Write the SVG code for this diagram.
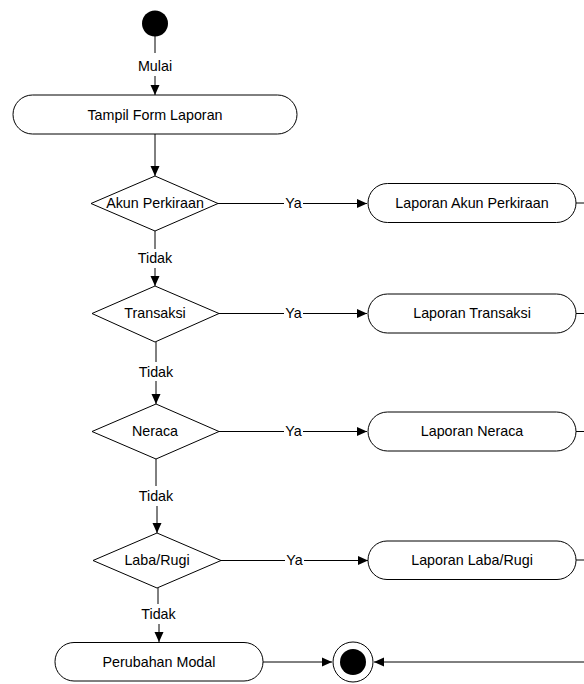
<svg xmlns="http://www.w3.org/2000/svg" width="584" height="684" viewBox="0 0 584 684">
<style>
.n{fill:#fff;stroke:#000;stroke-width:1}
.t{font-family:"Liberation Sans",Arial,sans-serif;font-size:14.3px;fill:#000;text-anchor:middle}
.c{fill:none;stroke:#000;stroke-width:1}
</style>
<defs>
<marker id="ah" markerUnits="userSpaceOnUse" markerWidth="12" markerHeight="10" refX="10" refY="5" orient="auto">
<path d="M0,0.5 L10,5 L0,9.5 Z" fill="#000"/>
</marker>
</defs>
<rect width="584" height="684" fill="#fff"/>
<g id="connectors">
<path class="c" d="M155,36 V53"/>
<path class="c" d="M155,76 V95" marker-end="url(#ah)"/>
<path class="c" d="M155,134 V176" marker-end="url(#ah)"/>
<path class="c" d="M218,203.5 H284 M303,203.5 H367" marker-end="url(#ah)"/>
<path class="c" d="M155,231 V249"/>
<path class="c" d="M155,268 V286" marker-end="url(#ah)"/>
<path class="c" d="M219,313.5 H284 M303,313.5 H367" marker-end="url(#ah)"/>
<path class="c" d="M156,342 V362"/>
<path class="c" d="M156,381 V404" marker-end="url(#ah)"/>
<path class="c" d="M219,431.5 H284 M303,431.5 H367" marker-end="url(#ah)"/>
<path class="c" d="M156,459 V486"/>
<path class="c" d="M157,506 V533" marker-end="url(#ah)"/>
<path class="c" d="M221,560.5 H285 M304,560.5 H368" marker-end="url(#ah)"/>
<path class="c" d="M158,588 V604"/>
<path class="c" d="M159,624 V642" marker-end="url(#ah)"/>
<path class="c" d="M263,662 H332" marker-end="url(#ah)"/>
<path class="c" d="M584,662 H374" marker-end="url(#ah)"/>
<path class="c" d="M576,203 H584 M576,313.5 H584 M576,431.5 H584 M576,560 H584"/>
<text class="t" x="155" y="71">Mulai</text>
<text class="t" x="293.5" y="208">Ya</text>
<text class="t" x="155" y="263">Tidak</text>
<text class="t" x="293.5" y="318">Ya</text>
<text class="t" x="156" y="376.5">Tidak</text>
<text class="t" x="293.5" y="436">Ya</text>
<text class="t" x="156" y="501">Tidak</text>
<text class="t" x="294.5" y="565">Ya</text>
<text class="t" x="158.5" y="619">Tidak</text>
</g>
<g id="start"><circle cx="155" cy="23.5" r="13" fill="#000"/></g>
<g id="tampil"><rect class="n" x="13" y="95" width="284" height="39" rx="19.5"/><text class="t" x="155" y="120">Tampil Form Laporan</text></g>
<g id="d-akun"><polygon class="n" points="155,176 218,203.5 155,231 91,203.5"/><text class="t" x="155" y="208">Akun Perkiraan</text></g>
<g id="l-akun"><rect class="n" x="368" y="183.5" width="208" height="39" rx="19.5"/><text class="t" x="472" y="208">Laporan Akun Perkiraan</text></g>
<g id="d-transaksi"><polygon class="n" points="155,286 219,313.5 155,342 92,313.5"/><text class="t" x="155" y="318">Transaksi</text></g>
<g id="l-transaksi"><rect class="n" x="368" y="294" width="208" height="39" rx="19.5"/><text class="t" x="472" y="318">Laporan Transaksi</text></g>
<g id="d-neraca"><polygon class="n" points="156,404 219,431.5 156,459 92,431.5"/><text class="t" x="155" y="436">Neraca</text></g>
<g id="l-neraca"><rect class="n" x="368" y="412" width="208" height="39" rx="19.5"/><text class="t" x="472" y="436">Laporan Neraca</text></g>
<g id="d-laba"><polygon class="n" points="157,533 221,560.5 157,588 93,560.5"/><text class="t" x="157" y="565">Laba/Rugi</text></g>
<g id="l-laba"><rect class="n" x="368" y="541" width="208" height="38.5" rx="19"/><text class="t" x="472" y="565">Laporan Laba/Rugi</text></g>
<g id="perubahan"><rect class="n" x="55" y="642.5" width="208" height="38.5" rx="19"/><text class="t" x="159" y="667">Perubahan Modal</text></g>
<g id="end"><circle cx="353" cy="662" r="20" fill="#fff" stroke="#000"/><circle cx="353" cy="662" r="13" fill="#000"/></g>
</svg>
